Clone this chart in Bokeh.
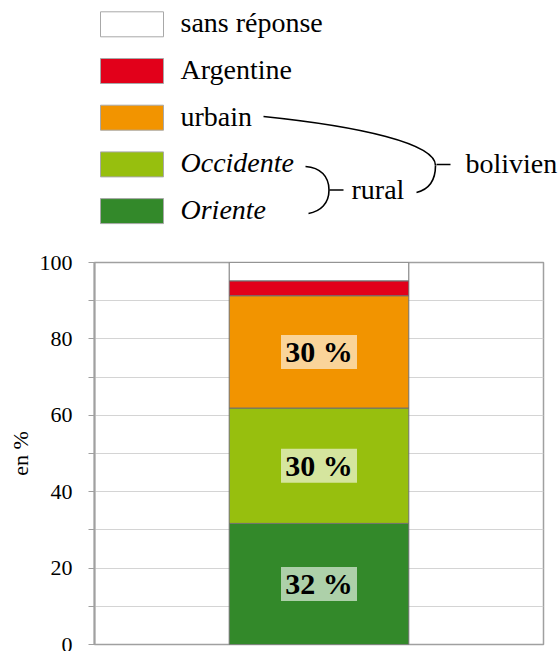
import numpy as np
from bokeh.plotting import figure
from bokeh.models import ColumnDataSource, Range1d, FixedTicker
from bokeh.core.properties import value
from bokeh.embed import file_html
from bokeh.resources import INLINE

# ---------------- data ----------------
categories = ["Oriente", "Occidente", "urbain", "Argentine", "sans réponse"]
shares = [31.7, 30.2, 29.4, 3.9, 4.8]
colors = ["#33892a", "#97bf0e", "#f29400", "#e2001a", "#ffffff"]
bar_labels = ["32 %", "30 %", "30 %", "", ""]
italic = [True, True, False, False, False]
y_ticks = list(range(0, 101, 10))
y_tick_labels = {t: (str(t) if t % 20 == 0 else "") for t in y_ticks}
group_rural = "rural"
group_bolivien = "bolivien"
y_axis_title = "en %"

SERIF = "Liberation Serif"
W = 558
H_LEG = 242
H_CHART = 409
OY = 2  # page offset of the canvas top

def cy(y):
    return y - OY

# ---------------- legend figure ----------------
leg = figure(width=W, height=H_LEG, x_range=Range1d(0, W), y_range=Range1d(H_LEG, 0),
             x_axis_type=None, y_axis_type=None, toolbar_location=None,
             output_backend="svg", min_border=0)
leg.grid.visible = False
leg.outline_line_color = None

order = list(range(len(categories)))[::-1]  # top to bottom: sans réponse ... Oriente
row0, row_gap = cy(25.8), 46.7
rows = [row0 + row_gap * k for k in range(len(order))]
leg_src = ColumnDataSource(dict(
    y=rows,
    ty=[r - 1.5 for r in rows],
    color=[colors[i] for i in order],
    name=[categories[i] for i in order],
    style=["italic" if italic[i] else "normal" for i in order],
))
leg.rect(x=131.5, y="y", width=63, height=25, fill_color="color",
         line_color="#a8a8a8", line_width=1, source=leg_src)
leg.text(x=180, y="ty", text="name", text_font=value(SERIF), text_font_size="28px",
         text_font_style="style", text_color="black", text_baseline="middle",
         text_align="left", source=leg_src)

# rural brace (joins Occidente and Oriente)
leg.bezier(x0=[305, 328.5], y0=[cy(168), cy(191.5)],
           x1=[328.5, 308], y1=[cy(191.5), cy(215)],
           cx0=[320, 328.5], cy0=[cy(169), cy(205)],
           cx1=[328.5, 320], cy1=[cy(178), cy(213)],
           line_color="black", line_width=1.6)
leg.segment(x0=[329], y0=[cy(191.5)], x1=[343], y1=[cy(191.5)],
            line_color="black", line_width=1.6)
leg.text(x=[351], y=[cy(191)], text=[group_rural], text_font=value(SERIF),
         text_font_size="28px", text_baseline="middle", text_align="left")

# bolivien brace (joins urbain and rural)
leg.bezier(x0=[263, 435], y0=[cy(118), cy(167)],
           x1=[435, 416], y1=[cy(167), cy(194)],
           cx0=[360, 435], cy0=[cy(128), cy(183)],
           cx1=[435, 428], cy1=[cy(145), cy(191)],
           line_color="black", line_width=1.6)
leg.segment(x0=[436], y0=[cy(166)], x1=[450], y1=[cy(166)],
            line_color="black", line_width=1.6)
leg.text(x=[465], y=[cy(165)], text=[group_bolivien], text_font=value(SERIF),
         text_font_size="28px", text_baseline="middle", text_align="left")

# ---------------- chart figure ----------------
p = figure(width=W, height=H_CHART, x_range=Range1d(0, 1), y_range=Range1d(0, 100),
           toolbar_location=None, output_backend="svg",
           min_border_left=94, min_border_right=15, min_border_top=20, min_border_bottom=7)
p.xaxis.visible = False
p.xgrid.visible = False
p.ygrid.grid_line_color = "#d4d4d4"
p.ygrid.grid_line_width = 1
p.outline_line_color = "#a0a0a0"
p.outline_line_width = 1.5

ya = p.yaxis[0]
ya.ticker = FixedTicker(ticks=y_ticks)
ya.major_label_overrides = y_tick_labels
ya.minor_tick_line_color = None
ya.major_tick_out = 6
ya.major_tick_in = 0
ya.major_tick_line_color = "#a0a0a0"
ya.axis_line_color = "#a0a0a0"
ya.axis_line_width = 2
ya.major_label_text_font = SERIF
ya.major_label_text_font_size = "22px"
ya.major_label_text_color = "black"
ya.major_label_standoff = 16
ya.axis_label = y_axis_title
ya.axis_label_text_font = SERIF
ya.axis_label_text_font_size = "22px"
ya.axis_label_text_font_style = "normal"
ya.axis_label_text_color = "black"
ya.axis_label_standoff = 4

vals = np.array(shares)
tops = np.cumsum(vals)
bottoms = tops - vals
mids = (tops + bottoms) / 2
bar_src = ColumnDataSource(dict(x=[0.5] * len(vals), top=tops, bottom=bottoms, color=colors))
p.vbar(x="x", top="top", bottom="bottom", width=0.4, fill_color="color",
       line_color="#707070", line_width=1, source=bar_src)

lab_idx = [i for i, t in enumerate(bar_labels) if t]
lab_src = ColumnDataSource(dict(x=[0.5] * len(lab_idx), y=[mids[i] for i in lab_idx],
                                text=[bar_labels[i] for i in lab_idx]))
p.rect(x="x", y="y", width=76, height=34, width_units="screen", height_units="screen",
       fill_color="white", fill_alpha=0.6, line_color=None, source=lab_src)
p.text(x="x", y="y", text="text", text_font=value(SERIF), text_font_size="30px",
       text_font_style="bold", text_color="black", text_align="center",
       text_baseline="middle", source=lab_src)

open("out.html", "w").write(file_html([leg, p], INLINE))
